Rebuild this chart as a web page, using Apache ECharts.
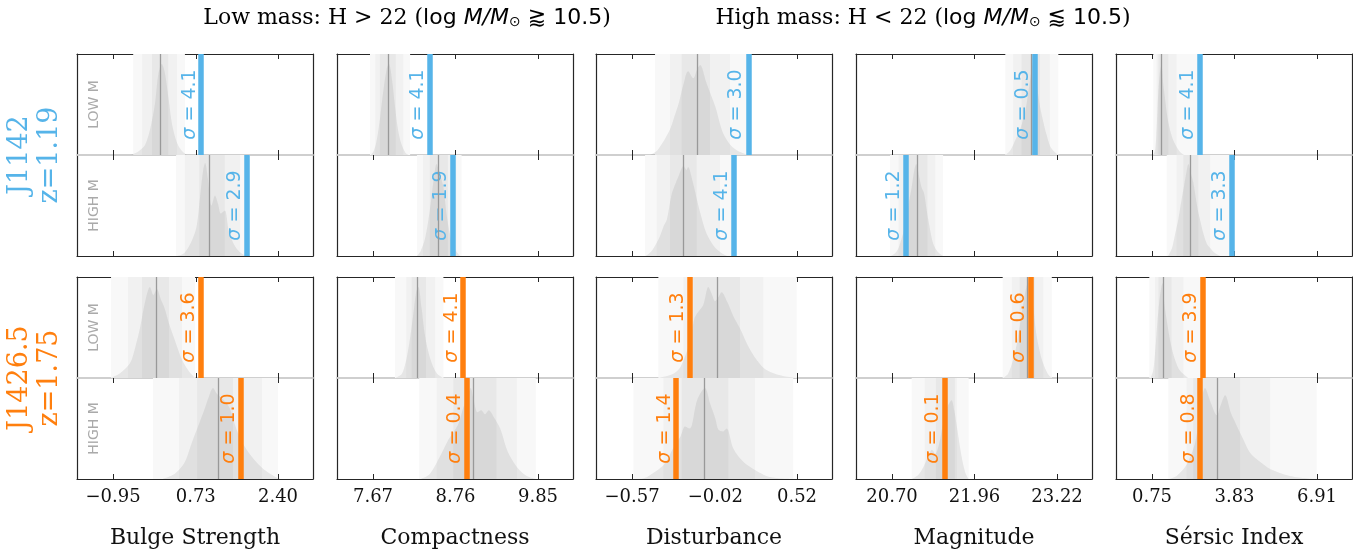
<!DOCTYPE html>
<html>
<head>
<meta charset="utf-8">
<script src="https://cdn.jsdelivr.net/npm/echarts@6/dist/echarts.min.js"></script>
<style>html,body{margin:0;padding:0;background:#fff}#c{width:1353px;height:550px}</style>
</head>
<body>
<div id="c"></div>
<script>
// ---------------- DATA ----------------
const axisNames = ['Bulge Strength', 'Compactness', 'Disturbance', 'Magnitude', 'S\u00e9rsic Index'];
const tickValues = [[-0.95, 0.73, 2.40], [7.67, 8.76, 9.85], [-0.57, -0.02, 0.52], [20.70, 21.96, 23.22], [0.75, 3.83, 6.91]];
const xRange = [[-1.681, 3.11], [7.194, 10.312], [-0.808, 0.751], [20.15, 23.754], [-0.594, 8.217]];
const rowNames = ['LOW M', 'HIGH M', 'LOW M', 'HIGH M'];
const groupLabels = ['J1142\nz=1.19', 'J1426.5\nz=1.75'];
const groupColors = ['#56b4e9', '#ff7f0e'];
const titleLow = 'Low mass: H > 22 (';
const titleHigh = 'High mass: H < 22 (';

// observed value (coloured line), rows: J1142 low, J1142 high, J1426.5 low, J1426.5 high
const observed = [
  [0.84, 8.42, 0.196, 22.88, 2.54],
  [1.76, 8.72, 0.099, 20.91, 3.73],
  [0.83, 8.86, -0.189, 22.82, 2.65],
  [1.64, 8.91, -0.275, 21.50, 2.55]
];
const medians = [
  [0.00, 7.87, -0.143, 22.82, 1.11],
  [1.00, 8.53, -0.231, 21.08, 2.17],
  [-0.08, 8.26, -0.011, 22.76, 1.17],
  [1.18, 8.99, -0.088, 21.51, 3.17]
];
const sigmas = [
  [4.1, 4.1, 3.0, 0.5, 4.1],
  [2.9, 1.9, 4.1, 1.2, 3.3],
  [3.6, 4.1, 1.3, 0.6, 3.9],
  [1.0, 0.4, 1.4, 0.1, 0.8]
];
// percentile bands: [outerLo, outerHi, midLo, midHi, innerLo, innerHi]
const bands = [
  [[-0.54, 0.51, -0.36, 0.35, -0.16, 0.17], [7.63, 8.16, 7.70, 8.07, 7.76, 7.97], [-0.418, 0.21, -0.32, 0.077, -0.242, -0.055], [22.43, 23.24, 22.55, 23.11, 22.68, 22.96], [0.80, 2.61, 0.92, 1.67, 0.99, 1.36]],
  [[0.33, 1.83, 0.51, 1.63, 0.80, 1.32], [8.25, 8.84, 8.33, 8.77, 8.42, 8.66], [-0.484, 0.089, -0.407, 0.011, -0.319, -0.143], [20.67, 21.48, 20.80, 21.36, 20.92, 21.24], [1.30, 3.79, 1.67, 2.92, 1.92, 2.48]],
  [[-0.99, 0.715, -0.645, 0.45, -0.36, 0.187], [7.96, 8.60, 8.11, 8.49, 8.18, 8.37], [-0.396, 0.518, -0.231, 0.297, -0.165, 0.143], [22.39, 23.14, 22.53, 23.01, 22.65, 22.88], [0.65, 2.67, 0.86, 1.92, 0.99, 1.48]],
  [[-0.138, 2.40, 0.39, 2.075, 0.756, 1.486], [8.28, 9.82, 8.51, 9.57, 8.73, 9.30], [-0.561, 0.495, -0.363, 0.242, -0.242, 0.066], [21.0, 21.87, 21.20, 21.69, 21.37, 21.66], [1.36, 6.90, 2.04, 5.16, 2.29, 4.04]]
];
// density curves [x, height]
const kdeJ1142Low = [
  [[-0.6,0],[-0.45,0.03],[-0.3,0.1],[-0.2,0.25],[-0.1,0.5],[-0.03,0.8],[0.04,0.9],[0.1,0.82],[0.18,0.55],[0.25,0.3],[0.35,0.12],[0.45,0.04],[0.55,0]],
  [[7.64,0],[7.68,0.04],[7.72,0.15],[7.76,0.35],[7.8,0.6],[7.85,0.85],[7.88,0.9],[7.92,0.75],[7.96,0.48],[8.0,0.25],[8.04,0.12],[8.1,0.02],[8.14,0]],
  [[-0.45,0],[-0.4,0.05],[-0.32,0.25],[-0.29,0.38],[-0.26,0.52],[-0.23,0.7],[-0.2,0.83],[-0.165,0.76],[-0.14,0.85],[-0.12,0.89],[-0.08,0.72],[-0.05,0.6],[-0.02,0.48],[0.03,0.22],[0.08,0.1],[0.13,0.04],[0.2,0]],
  [[22.43,0],[22.5,0.04],[22.55,0.1],[22.62,0.2],[22.68,0.3],[22.74,0.45],[22.8,0.7],[22.86,0.92],[22.9,0.75],[22.96,0.48],[23.02,0.3],[23.06,0.2],[23.12,0.08],[23.2,0.02],[23.24,0]],
  [[0.8,0],[0.87,0.05],[0.93,0.3],[0.98,0.6],[1.04,0.8],[1.1,0.89],[1.17,0.7],[1.24,0.55],[1.32,0.38],[1.42,0.25],[1.55,0.14],[1.67,0.08],[1.8,0.03],[1.95,0]]
];
const kdeJ1142High = [
  [[0.35,0],[0.5,0.03],[0.65,0.15],[0.75,0.3],[0.82,0.6],[0.88,0.85],[0.92,0.92],[0.98,0.75],[1.05,0.5],[1.12,0.6],[1.18,0.52],[1.24,0.42],[1.32,0.45],[1.4,0.25],[1.5,0.12],[1.62,0.04],[1.75,0]],
  [[8.25,0],[8.3,0.05],[8.36,0.18],[8.42,0.45],[8.47,0.75],[8.51,0.91],[8.55,0.82],[8.6,0.68],[8.64,0.42],[8.69,0.2],[8.74,0.08],[8.82,0]],
  [[-0.48,0],[-0.44,0.05],[-0.39,0.18],[-0.36,0.3],[-0.34,0.36],[-0.31,0.6],[-0.29,0.69],[-0.26,0.8],[-0.23,0.89],[-0.21,0.85],[-0.2,0.88],[-0.17,0.74],[-0.14,0.55],[-0.12,0.43],[-0.08,0.23],[-0.03,0.1],[0.02,0.03],[0.06,0]],
  [[20.68,0],[20.75,0.03],[20.8,0.08],[20.85,0.18],[20.9,0.3],[20.95,0.5],[21.0,0.68],[21.04,0.85],[21.07,0.91],[21.11,0.8],[21.15,0.68],[21.19,0.62],[21.23,0.45],[21.27,0.3],[21.33,0.12],[21.4,0.04],[21.48,0]],
  [[1.35,0],[1.5,0.08],[1.6,0.2],[1.73,0.36],[1.85,0.55],[1.95,0.7],[2.05,0.85],[2.11,0.91],[2.2,0.82],[2.29,0.73],[2.4,0.55],[2.48,0.43],[2.57,0.33],[2.66,0.23],[2.8,0.12],[2.92,0.08],[3.1,0.03],[3.3,0]]
];
const kdeJ1426Low = [
  [[-1.0,0],[-0.8,0.05],[-0.6,0.15],[-0.5,0.3],[-0.4,0.5],[-0.3,0.75],[-0.2,0.9],[-0.13,0.82],[-0.06,0.88],[0.02,0.78],[0.09,0.7],[0.18,0.55],[0.3,0.38],[0.45,0.18],[0.6,0.06],[0.72,0]],
  [[7.96,0],[8.05,0.04],[8.1,0.15],[8.15,0.35],[8.2,0.62],[8.24,0.85],[8.27,0.9],[8.31,0.7],[8.35,0.45],[8.4,0.26],[8.46,0.12],[8.52,0.04],[8.6,0]],
  [[-0.4,0],[-0.3,0.04],[-0.25,0.11],[-0.19,0.35],[-0.16,0.58],[-0.14,0.64],[-0.1,0.72],[-0.066,0.9],[-0.04,0.82],[-0.022,0.76],[0.0,0.8],[0.022,0.85],[0.06,0.75],[0.1,0.61],[0.14,0.5],[0.21,0.28],[0.3,0.1],[0.4,0.03],[0.52,0]],
  [[22.39,0],[22.47,0.04],[22.55,0.18],[22.6,0.32],[22.65,0.51],[22.7,0.72],[22.76,0.92],[22.8,0.95],[22.85,0.75],[22.9,0.45],[22.96,0.25],[23.01,0.14],[23.08,0.04],[23.14,0]],
  [[0.7,0],[0.8,0.08],[0.88,0.3],[0.95,0.55],[1.02,0.75],[1.1,0.9],[1.15,0.94],[1.22,0.72],[1.3,0.57],[1.42,0.38],[1.52,0.26],[1.61,0.18],[1.75,0.09],[1.92,0.04],[2.1,0]]
];
const kdeJ1426High = [
  [[0.05,0],[0.3,0.05],[0.5,0.16],[0.65,0.36],[0.8,0.55],[0.9,0.68],[1.0,0.82],[1.08,0.9],[1.15,0.85],[1.3,0.78],[1.42,0.7],[1.55,0.5],[1.7,0.34],[1.9,0.2],[2.1,0.1],[2.35,0.02],[2.45,0]],
  [[8.3,0],[8.42,0.05],[8.58,0.26],[8.66,0.38],[8.73,0.46],[8.8,0.55],[8.86,0.7],[8.93,0.85],[8.96,0.9],[9.0,0.78],[9.05,0.66],[9.1,0.68],[9.15,0.64],[9.2,0.68],[9.26,0.62],[9.35,0.5],[9.45,0.27],[9.57,0.12],[9.7,0.03],[9.82,0]],
  [[-0.52,0],[-0.47,0.02],[-0.36,0.14],[-0.3,0.3],[-0.25,0.42],[-0.22,0.52],[-0.19,0.5],[-0.175,0.53],[-0.14,0.78],[-0.088,0.9],[-0.055,0.75],[-0.02,0.6],[0.0,0.49],[0.03,0.47],[0.055,0.5],[0.1,0.3],[0.165,0.17],[0.23,0.1],[0.34,0.02],[0.5,0]],
  [[21.0,0],[21.1,0.04],[21.18,0.12],[21.25,0.22],[21.31,0.29],[21.36,0.25],[21.42,0.35],[21.48,0.55],[21.55,0.72],[21.61,0.78],[21.65,0.68],[21.69,0.52],[21.76,0.23],[21.82,0.06],[21.87,0]],
  [[1.4,0],[1.67,0.03],[2.04,0.14],[2.36,0.36],[2.54,0.65],[2.73,0.9],[2.95,0.75],[3.17,0.63],[3.3,0.72],[3.48,0.83],[3.7,0.65],[3.91,0.53],[4.16,0.39],[4.41,0.26],[4.78,0.17],[5.16,0.1],[5.9,0.03],[6.8,0]]
];
const kdes = [kdeJ1142Low, kdeJ1142High, kdeJ1426Low, kdeJ1426High];

// ---------------- LAYOUT / STYLE ----------------
const colLeft = [77, 337, 596, 856, 1116];
const rowTop = [54, 155, 277, 378];
const panelW = 236, panelH = 101;
const dark = '#262626', light = '#cccccc';
const bandColors = ['#f8f8f8', '#f1f1f1', '#e8e8e8'];
const fmt = v => (v < 0 ? '\u2212' : '') + Math.abs(v).toFixed(2);

const grids = [], xAxes = [], yAxes = [], series = [];
for (let r = 0; r < 4; r++) {
  const upper = r % 2 === 0;
  const color = groupColors[Math.floor(r / 2)];
  for (let c = 0; c < 5; c++) {
    const g = grids.length;
    grids.push({ left: colLeft[c], top: rowTop[r], width: panelW, height: panelH });
    const xb = xAxes.length;
    const tickCommon = { show: true, inside: true, length: 5, customValues: tickValues[c], lineStyle: { color: dark, width: 1 } };
    xAxes.push({
      gridIndex: g, type: 'value', min: xRange[c][0], max: xRange[c][1], position: 'bottom',
      axisLine: { show: true, onZero: false, lineStyle: { color: upper ? light : dark, width: upper ? 1.5 : 1.2 } },
      axisTick: tickCommon,
      axisLabel: { show: r === 3, customValues: tickValues[c], formatter: fmt, fontFamily: 'DejaVu Serif', fontSize: 18, color: '#111', margin: 9 },
      splitLine: { show: false },
      name: r === 3 ? axisNames[c] : '', nameLocation: 'middle', nameGap: 48,
      nameTextStyle: { fontFamily: 'DejaVu Serif', fontSize: 22, color: '#111' }
    });
    xAxes.push({
      gridIndex: g, type: 'value', min: xRange[c][0], max: xRange[c][1], position: 'top',
      axisLine: { show: true, onZero: false, lineStyle: { color: upper ? dark : light, width: upper ? 1.2 : 1.5 } },
      axisTick: tickCommon, axisLabel: { show: false }, splitLine: { show: false }
    });
    const yb = yAxes.length;
    const yCommon = { gridIndex: g, type: 'value', min: 0, max: 1, axisLine: { show: true, onZero: false, lineStyle: { color: dark, width: 1.2 } }, axisTick: { show: false }, axisLabel: { show: false }, splitLine: { show: false } };
    yAxes.push(Object.assign({ position: 'left' }, yCommon));
    yAxes.push(Object.assign({ position: 'right' }, yCommon));

    const b = bands[r][c];
    series.push({
      type: 'line', xAxisIndex: xb, yAxisIndex: yb, data: [], z: 1, silent: true,
      markArea: { silent: true, data: [
        [{ xAxis: b[0], itemStyle: { color: bandColors[0] } }, { xAxis: b[1] }],
        [{ xAxis: b[2], itemStyle: { color: bandColors[1] } }, { xAxis: b[3] }],
        [{ xAxis: b[4], itemStyle: { color: bandColors[2] } }, { xAxis: b[5] }]
      ] }
    });
    series.push({
      type: 'line', xAxisIndex: xb, yAxisIndex: yb, data: kdes[r][c], z: 2, silent: true,
      smooth: 0.3, symbol: 'none', lineStyle: { width: 0 },
      areaStyle: { color: 'rgba(120,120,120,0.2)' }
    });
    series.push({
      type: 'scatter', xAxisIndex: xb, yAxisIndex: yb, data: [[observed[r][c], 0.5]], z: 3, silent: true,
      symbolSize: 0, itemStyle: { opacity: 1 },
      label: { show: true, position: 'inside', rotate: 90, align: 'center', verticalAlign: 'bottom', padding: [0, 0, 2, 0],
        opacity: 1,
        formatter: '{i|\u03c3} = ' + sigmas[r][c].toFixed(1), color: color, fontSize: 19, fontFamily: 'DejaVu Sans',
        rich: { i: { color: color, fontSize: 19, fontFamily: 'DejaVu Sans', fontStyle: 'italic' } } },
      markLine: { silent: true, symbol: ['none', 'none'], label: { show: false }, data: [
        { xAxis: medians[r][c], lineStyle: { color: '#999999', width: 1.3, type: 'solid' } },
        { xAxis: observed[r][c], lineStyle: { color: color, width: 5.5, type: 'solid', opacity: 1 } }
      ] }
    });
  }
}

const graphics = [];
const titleRich = {
  s: { fontFamily: 'DejaVu Serif', fontSize: 22, color: '#111' },
  m: { fontFamily: 'DejaVu Sans', fontSize: 22, color: '#111' },
  i: { fontFamily: 'DejaVu Sans', fontStyle: 'italic', fontSize: 22, color: '#111' },
  sub: { fontFamily: 'DejaVu Sans', fontSize: 14, color: '#111', verticalAlign: 'bottom' }
};
graphics.push({ type: 'text', x: 407, y: 18, style: { text: '{s|' + titleLow + '}{m|log }{i|M/M}{sub|\u2299}{m| \u2a86 10.5}{s|)}', rich: titleRich, align: 'center', verticalAlign: 'middle', textAlign: 'center', textVerticalAlign: 'middle' } });
graphics.push({ type: 'text', x: 923, y: 18, style: { text: '{s|' + titleHigh + '}{m|log }{i|M/M}{sub|\u2299}{m| \u2a85 10.5}{s|)}', rich: titleRich, align: 'center', verticalAlign: 'middle', textAlign: 'center', textVerticalAlign: 'middle' } });
for (let k = 0; k < 2; k++) {
  graphics.push({ type: 'text', x: 35, y: rowTop[2 * k] + panelH, rotation: Math.PI / 2,
    style: { text: groupLabels[k], fill: groupColors[k], font: '27px "DejaVu Serif"', lineHeight: 30, align: 'center', verticalAlign: 'middle', textAlign: 'center', textVerticalAlign: 'middle' } });
}
for (let r = 0; r < 4; r++) {
  graphics.push({ type: 'text', x: colLeft[0] + 17, y: rowTop[r] + panelH / 2, rotation: Math.PI / 2,
    style: { text: rowNames[r], fill: '#aaaaaa', font: '14px "DejaVu Sans"', align: 'center', verticalAlign: 'middle', textAlign: 'center', textVerticalAlign: 'middle' } });
}

const chart = echarts.init(document.getElementById('c'), null, { renderer: 'canvas' });
chart.setOption({
  animation: false,
  backgroundColor: '#ffffff',
  grid: grids, xAxis: xAxes, yAxis: yAxes, series: series, graphic: graphics
});
</script>
</body>
</html>
